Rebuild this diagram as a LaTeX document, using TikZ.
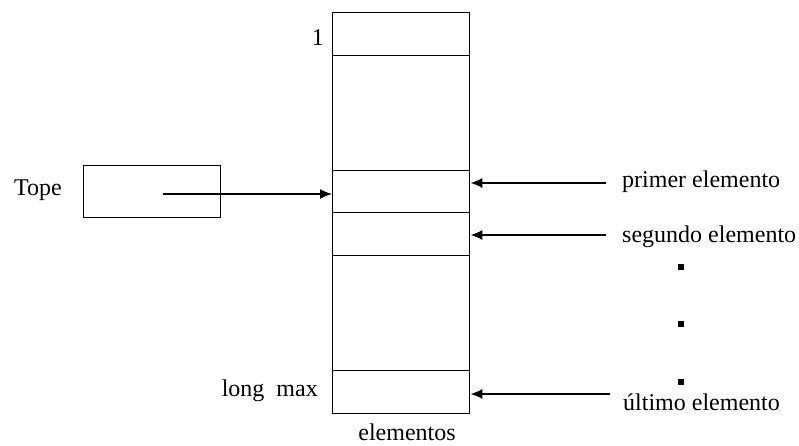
\documentclass[tikz,border=0pt]{standalone}
\usepackage{fontspec}
\setmainfont{Liberation Serif}
\usetikzlibrary{arrows.meta}
\tikzset{
  cell/.style={draw, line width=1.4pt, minimum width=137pt, inner sep=0pt, anchor=north west},
  lbl/.style={inner sep=0pt, font=\fontsize{24}{28}\selectfont},
  arr/.style={line width=1.4pt, -{Latex[length=12pt,width=10pt]}},
  dot/.style={fill=black, minimum size=6pt, inner sep=0pt}
}
\begin{document}
\begin{tikzpicture}[x=1pt,y=-1pt]
\useasboundingbox (0,0) rectangle (799,446);
% stack cells
\node[cell, minimum height=43pt] (c1) at (332,12) {};
\node[cell, minimum height=115pt] (g1) at (332,55) {};
\node[cell, minimum height=42pt] (cp) at (332,170) {};
\node[cell, minimum height=43pt] (cs) at (332,212) {};
\node[cell, minimum height=115pt] (g2) at (332,255) {};
\node[cell, minimum height=43pt] (cl) at (332,370) {};
% tope box
\node[draw, line width=1.2pt, minimum width=137pt, minimum height=52pt, inner sep=0pt, anchor=north west] (tb) at (83,165) {};
\node[lbl, anchor=west] (tope) at (14,190) {Tope};
\coordinate (ts) at (163,194);
\draw[arr] (ts) -- (ts -| cp.west);
% labels
\node[lbl, anchor=east] (one) at (324,38) {1};
\node[lbl, anchor=east] (lm) at (318,391) {long\ \ max};
\node[lbl] (el) at (407,432) {elementos};
\node[lbl, anchor=west] (pe) at (622,182) {primer elemento};
\node[lbl, anchor=west] (se) at (622,237) {segundo elemento};
\node[lbl, anchor=west] (ue) at (623,402) {último elemento};
\coordinate (pa) at (606,183);
\coordinate (sa) at (606,235);
\coordinate (ua) at (610,394);
\draw[arr] (pa) -- (pa -| cp.east);
\draw[arr] (sa) -- (sa -| cs.east);
\draw[arr] (ua) -- (ua -| cl.east);
% dots
\node[dot] (d1) at (681,267) {};
\node[dot] (d2) at (681,324) {};
\node[dot] (d3) at (681,382) {};
\end{tikzpicture}
\end{document}
